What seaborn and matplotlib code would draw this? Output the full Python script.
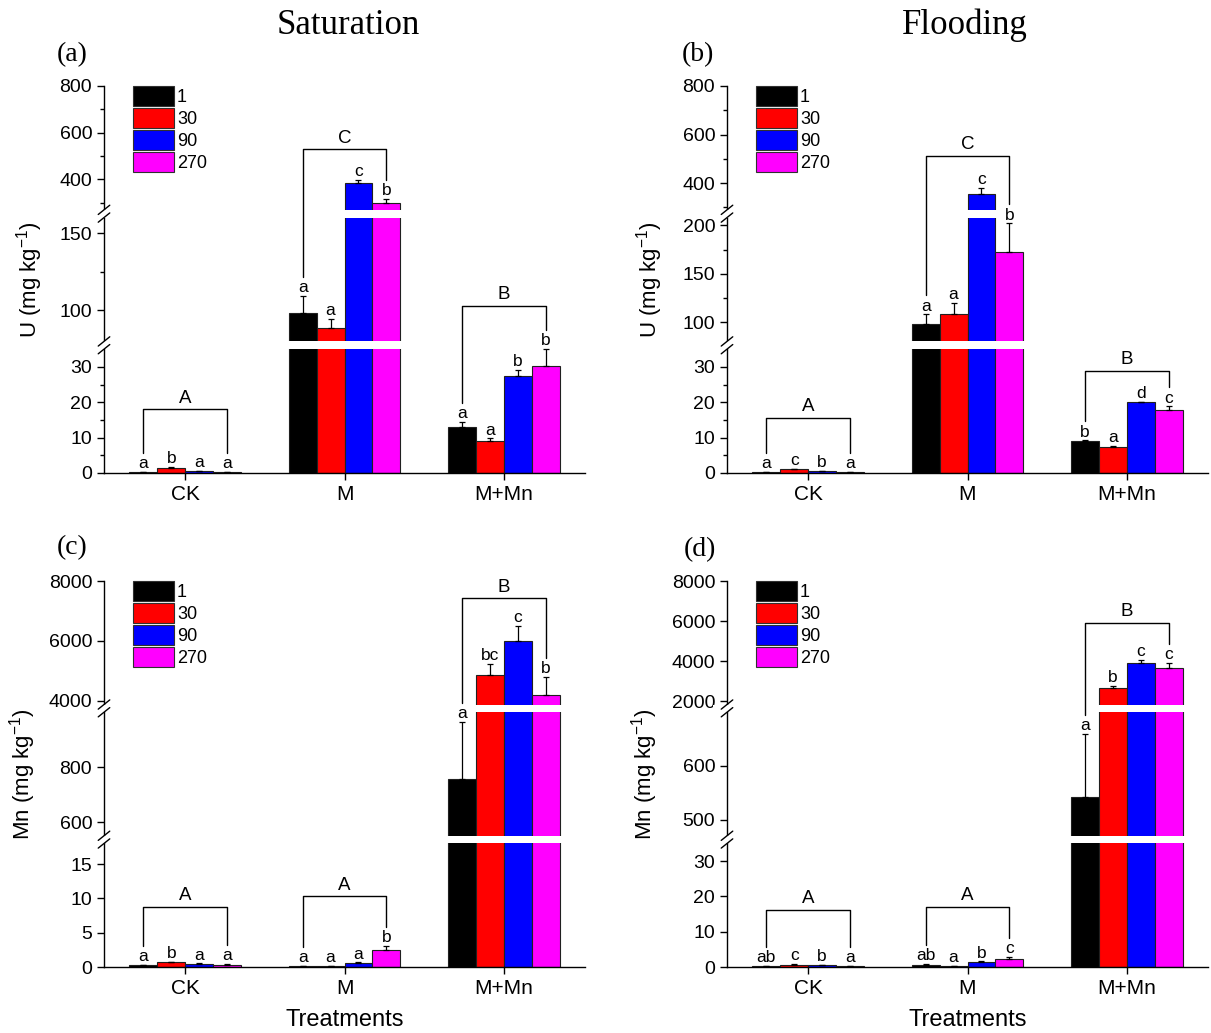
import numpy as np
import pandas as pd
import matplotlib
matplotlib.use("Agg")
import matplotlib.pyplot as plt
import seaborn as sns
from matplotlib.patches import Patch

treatments = ["CK", "M", "M+Mn"]
days = ["1", "30", "90", "270"]
colors = ["#000000", "#ff0000", "#0000ff", "#ff00ff"]

# (a) U, saturation  -- rows: treatment, cols: day
u_sat_mean = [[0.3, 1.5, 0.5, 0.3], [98.5, 88.5, 387, 299], [13.0, 9.1, 27.4, 30.3]]
u_sat_err = [[0.1, 0.3, 0.1, 0.1], [11, 6, 12, 19], [1.4, 0.7, 1.8, 4.7]]
u_sat_letters = [["a", "b", "a", "a"], ["a", "a", "c", "b"], ["a", "a", "b", "b"]]
u_sat_groups = ["A", "C", "B"]
u_sat_bracket = [18, 529, 103]

# (b) U, flooding
u_fl_mean = [[0.2, 1.0, 0.5, 0.2], [97.6, 108.8, 354, 172], [9.1, 7.4, 20.0, 17.8]]
u_fl_err = [[0.05, 0.2, 0.1, 0.05], [10.5, 11, 28, 30], [0.1, 0.3, 0.2, 1.0]]
u_fl_letters = [["a", "c", "b", "a"], ["a", "a", "c", "b"], ["b", "a", "d", "c"]]
u_fl_groups = ["A", "C", "B"]
u_fl_bracket = [15.6, 511, 28.8]

# (c) Mn, saturation
mn_sat_mean = [[0.25, 0.7, 0.45, 0.35], [0.1, 0.1, 0.6, 2.5], [758, 4870, 5980, 4180]]
mn_sat_err = [[0.05, 0.1, 0.1, 0.1], [0.02, 0.02, 0.1, 0.6], [206, 360, 530, 615]]
mn_sat_letters = [["a", "b", "a", "a"], ["a", "a", "a", "b"], ["a", "bc", "c", "b"]]
mn_sat_groups = ["A", "A", "B"]
mn_sat_bracket = [8.75, 10.3, 7420]

# (d) Mn, flooding
mn_fl_mean = [[0.3, 0.7, 0.5, 0.2], [0.6, 0.2, 1.3, 2.2], [542, 2650, 3920, 3640]]
mn_fl_err = [[0.05, 0.1, 0.1, 0.1], [0.2, 0.05, 0.3, 0.6], [118, 110, 150, 280]]
mn_fl_letters = [["ab", "c", "b", "a"], ["ab", "a", "b", "c"], ["a", "b", "c", "c"]]
mn_fl_groups = ["A", "A", "B"]
mn_fl_bracket = [16.2, 17.1, 5900]

SEG_H = 0.32
GAP = 0.02


def broken_scale(segments):
    xs, ts = [], []
    for i, (lo, hi) in enumerate(segments):
        base = i * (SEG_H + GAP)
        xs += [lo, hi]
        ts += [base, base + SEG_H]
    xs, ts = np.array(xs, float), np.array(ts, float)
    s0 = (ts[1] - ts[0]) / (xs[1] - xs[0])
    s1 = (ts[-1] - ts[-2]) / (xs[-1] - xs[-2])

    def fwd(v):
        v = np.asarray(v, float)
        out = np.interp(v, xs, ts)
        out = np.where(v < xs[0], ts[0] + (v - xs[0]) * s0, out)
        return np.where(v > xs[-1], ts[-1] + (v - xs[-1]) * s1, out)

    def inv(t):
        t = np.asarray(t, float)
        out = np.interp(t, ts, xs)
        out = np.where(t < ts[0], xs[0] + (t - ts[0]) / s0, out)
        return np.where(t > ts[-1], xs[-1] + (t - ts[-1]) / s1, out)

    return fwd, inv


def draw_panel(ax, mean, err, letters, groups, bracket_y, segments, major, minor,
               ylabel, label_x, xlabel):
    df = pd.DataFrame(
        [(t, d, mean[i][j]) for i, t in enumerate(treatments) for j, d in enumerate(days)],
        columns=["Treatment", "Day", "Value"],
    )
    sns.barplot(data=df, x="Treatment", y="Value", hue="Day", order=treatments,
                hue_order=days, palette=colors, saturation=1, width=0.7,
                edgecolor="#202020", linewidth=0.8, errorbar=None, legend=False, ax=ax)

    fwd, inv = broken_scale(segments)
    ax.set_yscale("function", functions=(fwd, inv))
    ax.set_ylim(segments[0][0], segments[-1][1])
    ax.set_xlim(-0.51, 2.51)
    ax.set_yticks(major)
    ax.set_yticklabels([str(v) for v in major])
    ax.set_yticks(minor, minor=True)
    ax.tick_params(axis="both", direction="out", length=5, width=1, labelsize=14)
    ax.tick_params(axis="x", labelsize=15)
    ax.tick_params(axis="y", which="minor", length=3, width=1)
    sns.despine(ax=ax)
    for s in ax.spines.values():
        s.set_linewidth(1)

    # bar centers
    centers = []
    for cont in list(ax.containers):
        centers.append([b.get_x() + b.get_width() / 2 for b in cont])

    for j in range(len(days)):
        xs = centers[j]
        ys = [mean[i][j] for i in range(3)]
        es = [err[i][j] for i in range(3)]
        ax.errorbar(xs, ys, yerr=[np.zeros(3), es], fmt="none", ecolor="black",
                    elinewidth=0.9, capsize=2.5, capthick=0.9, zorder=4)
        for i in range(3):
            ax.annotate(letters[i][j], (xs[i], ys[i] + es[i]), xytext=(0, 0.5),
                        textcoords="offset points", ha="center", va="bottom",
                        fontsize=12.5, zorder=6)

    # gaps in the axis
    for i in range(len(segments) - 1):
        band = ax.axhspan(segments[i][1], segments[i + 1][0], xmin=-0.03, xmax=1,
                          facecolor="white", edgecolor="none", zorder=3)
        band.set_clip_on(False)
        y0 = i * (SEG_H + GAP) + SEG_H
        for y in (y0, y0 + GAP):
            ax.plot([-0.012, 0.012], [y - 0.012, y + 0.012], transform=ax.transAxes,
                    color="black", lw=1, clip_on=False, zorder=5)

    # group brackets
    def leg_bottom(x, ytop):
        px = ax.transData.transform((x, ytop))
        return ax.transData.inverted().transform((px[0], px[1] + 19))[1]

    for i in range(3):
        x0, x3 = centers[0][i], centers[3][i]
        b0 = leg_bottom(x0, mean[i][0] + err[i][0])
        b3 = leg_bottom(x3, mean[i][3] + err[i][3])
        yb = bracket_y[i]
        ax.plot([x0, x0, x3, x3], [b0, yb, yb, b3], color="black", lw=1,
                zorder=6, clip_on=False)
        ax.annotate(groups[i], ((x0 + x3) / 2, yb), xytext=(0, 2),
                    textcoords="offset points", ha="center", va="bottom",
                    fontsize=13.5, zorder=6)

    handles = [Patch(facecolor=c, edgecolor="#303030", linewidth=0.8) for c in colors]
    ax.legend(handles, days, loc="upper left", bbox_to_anchor=(0.06, 1.0),
              frameon=False, fontsize=13, handlelength=2.3, handleheight=1.35,
              labelspacing=0.1, handletextpad=0.15, borderpad=0, borderaxespad=0)

    ax.set_ylabel(ylabel, fontsize=16)
    ax.yaxis.set_label_coords(label_x, 0.5)
    ax.set_xlabel(xlabel, fontsize=17, labelpad=8)


sns.set_style("ticks")
plt.rcParams["font.family"] = ["Liberation Sans", "DejaVu Sans"]
plt.rcParams["mathtext.fontset"] = "custom"
plt.rcParams["mathtext.rm"] = "Liberation Sans"
plt.rcParams["mathtext.it"] = "Liberation Sans:italic"
for key in ["axes.edgecolor", "xtick.color", "ytick.color", "text.color", "axes.labelcolor"]:
    plt.rcParams[key] = "black"

W, H = 1211, 1033
fig = plt.figure(figsize=(W / 100, H / 100), dpi=100)


def axes_at(x0, x1, ytop, ybot):
    return fig.add_axes([x0 / W, 1 - ybot / H, (x1 - x0) / W, (ybot - ytop) / H])


ax_a = axes_at(104, 585, 86, 473)
ax_b = axes_at(727, 1208, 86, 473)
ax_c = axes_at(104, 585, 581, 967)
ax_d = axes_at(727, 1208, 581, 967)

u_label = "U (mg kg$^{-1}$)"
mn_label = "Mn (mg kg$^{-1}$)"

draw_panel(ax_a, u_sat_mean, u_sat_err, u_sat_letters, u_sat_groups, u_sat_bracket,
           [(0, 35), (80, 160), (270, 800)],
           [0, 10, 20, 30, 100, 150, 400, 600, 800], [5, 15, 25, 125, 300, 500, 700],
           u_label, -0.123, "")
draw_panel(ax_b, u_fl_mean, u_fl_err, u_fl_letters, u_fl_groups, u_fl_bracket,
           [(0, 35), (80, 208), (290, 800)],
           [0, 10, 20, 30, 100, 150, 200, 400, 600, 800], [5, 15, 25, 125, 175, 300, 500, 700],
           u_label, -0.128, "")
draw_panel(ax_c, mn_sat_mean, mn_sat_err, mn_sat_letters, mn_sat_groups, mn_sat_bracket,
           [(0, 18), (550, 1000), (3870, 8000)],
           [0, 5, 10, 15, 600, 800, 4000, 6000, 8000], [],
           mn_label, -0.137, "Treatments")
draw_panel(ax_d, mn_fl_mean, mn_fl_err, mn_fl_letters, mn_fl_groups, mn_fl_bracket,
           [(0, 35), (470, 700), (1830, 8000)],
           [0, 10, 20, 30, 500, 600, 2000, 4000, 6000, 8000], [],
           mn_label, -0.139, "Treatments")

serif = ["Liberation Serif", "DejaVu Serif"]
fig.text(348 / W, 1 - 25 / H, "Saturation", ha="center", va="center", fontsize=25, family=serif)
fig.text(965 / W, 1 - 25 / H, "Flooding", ha="center", va="center", fontsize=25, family=serif)
for lab, x, y in [("(a)", 72, 55), ("(b)", 698, 55), ("(c)", 72, 548), ("(d)", 700, 550)]:
    fig.text(x / W, 1 - y / H, lab, ha="center", va="center", fontsize=20, family=serif)

fig.savefig("out.png", dpi=100)
